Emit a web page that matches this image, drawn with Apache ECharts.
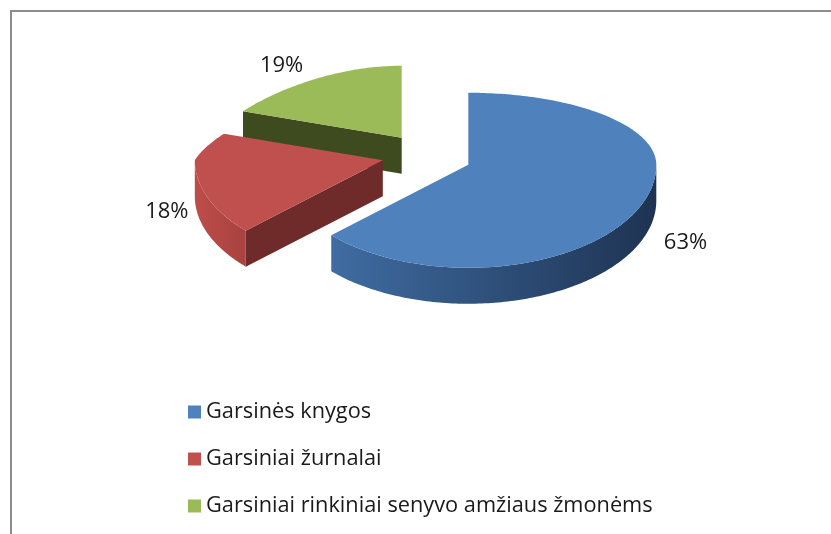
<!DOCTYPE html>
<html>
<head>
<meta charset="utf-8">
<script src="https://cdn.jsdelivr.net/npm/echarts@6/dist/echarts.min.js"></script>
<style>
  html, body { margin: 0; padding: 0; background: #fff; }
  #chart { width: 831px; height: 534px; }
</style>
</head>
<body>
<div id="chart"></div>
<script>
  // data
  const categories = ['Garsinės knygos', 'Garsiniai žurnalai', 'Garsiniai rinkiniai senyvo amžiaus žmonėms'];
  const values = [63, 18, 19];

  // Excel-like palette: top face, curved side (light -> dark), cut face
  const topColors = ['#4f81bd', '#c0504d', '#9bbb59'];
  const sideColors = [['#3f6ca2', '#1e3352'], ['#bd4d4a', '#a8423f'], ['#6d8a3a', '#4a5d26']];
  const cutColors = ['#2c4a70', '#6e2b29', '#3e4b1f'];

  // pie geometry (pixels)
  const cx = 427, cy = 156;
  const rx = 188, ryBack = 72, ryFront = 103;
  const depth = 36;
  const explode = 45, ky = 0.49;

  const total = values.reduce((a, b) => a + b, 0);
  const rad = (d) => d * Math.PI / 180;

  function angles(i) {
    let start = 0;
    for (let k = 0; k < i; k++) start += values[k] / total * 360;
    return [start, start + values[i] / total * 360];
  }

  function rim(deg, ox, oy, dz) {
    const c = Math.cos(rad(deg));
    const s = Math.sin(rad(deg));
    // far left side looks a bit narrower in the original perspective
    const shrink = (s < 0 && c > 0) ? 1 - 0.25 * c : 1;
    return [ox + rx * s * shrink, oy - (c > 0 ? ryBack : ryFront) * c + dz];
  }

  function arc(a, b, ox, oy, dz) {
    const pts = [];
    const n = Math.max(2, Math.ceil(Math.abs(b - a)));
    for (let k = 0; k <= n; k++) pts.push(rim(a + (b - a) * k / n, ox, oy, dz));
    return pts;
  }

  function renderSlice(i) {
    return function (params, api) {
      const [a0, a1] = angles(i);
      const bis = (a0 + a1) / 2;
      const ox = cx + explode * Math.sin(rad(bis));
      const oy = cy - explode * ky * Math.cos(rad(bis));
      const children = [];

      // cut faces, only the ones turned towards the viewer
      if (Math.sin(rad(a0)) < -0.01) {
        const p = rim(a0, ox, oy, 0);
        children.push({
          type: 'polygon',
          shape: { points: [[ox, oy], p, [p[0], p[1] + depth], [ox, oy + depth]] },
          style: { fill: cutColors[i] }
        });
      }
      if (Math.sin(rad(a1)) > 0.01) {
        const p = rim(a1, ox, oy, 0);
        children.push({
          type: 'polygon',
          shape: { points: [[ox, oy], p, [p[0], p[1] + depth], [ox, oy + depth]] },
          style: { fill: cutColors[i] }
        });
      }

      // curved outer side on the front half
      const s = Math.max(a0, 90), e = Math.min(a1, 270);
      if (e > s) {
        const top = arc(s, e, ox, oy, 0);
        const bottom = arc(e, s, ox, oy, depth);
        children.push({
          type: 'polygon',
          shape: { points: top.concat(bottom) },
          style: {
            fill: new echarts.graphic.LinearGradient(0, 0, 1, 0, [
              { offset: 0, color: sideColors[i][0] },
              { offset: 1, color: sideColors[i][1] }
            ])
          }
        });
      }

      // top face
      children.push({
        type: 'polygon',
        shape: { points: [[ox, oy]].concat(arc(a0, a1, ox, oy, 0)) },
        style: { fill: topColors[i] }
      });

      // percent label outside the slice
      const front = Math.cos(rad(bis)) < 0;
      const L = 40;
      const lx = ox + Math.sin(rad(bis)) * (rx + L) + 8;
      const ly = oy - Math.cos(rad(bis)) * ((front ? ryFront : ryBack) + L / 2) + (front ? depth * 0.8 : 4);
      children.push({
        type: 'text',
        style: {
          text: Math.round(values[i] / total * 100) + '%',
          x: lx, y: ly,
          fill: '#1a1a1a',
          font: '22px "Open Sans"',
          align: 'center',
          verticalAlign: 'middle'
        }
      });

      return { type: 'group', children: children };
    };
  }

  // draw back slices first
  const frontness = values.map((v, i) => {
    const [a0, a1] = angles(i);
    return -Math.cos(rad((a0 + a1) / 2));
  });
  const order = frontness.map((f, i) => i).sort((a, b) => frontness[a] - frontness[b]);

  const series = categories.map((name, i) => ({
    type: 'custom',
    name: name,
    coordinateSystem: 'none',
    data: [values[i]],
    z: 2 + order.indexOf(i),
    itemStyle: { color: topColors[i] },
    renderItem: renderSlice(i),
    silent: true
  }));

  const chart = echarts.init(document.getElementById('chart'));
  chart.setOption({
    animation: false,
    color: topColors,
    graphic: [{
      type: 'rect',
      silent: true,
      shape: { x: 11, y: 11, width: 860, height: 560 },
      style: { fill: 'none', stroke: '#8c8c8c', lineWidth: 2 }
    }],
    legend: {
      orient: 'vertical',
      left: 183,
      top: 396,
      icon: 'rect',
      itemWidth: 13,
      itemHeight: 13,
      itemGap: 25,
      selectedMode: false,
      textStyle: { fontFamily: 'Open Sans', fontSize: 21.75, color: '#1a1a1a' },
      data: categories
    },
    series: series
  });
</script>
</body>
</html>
